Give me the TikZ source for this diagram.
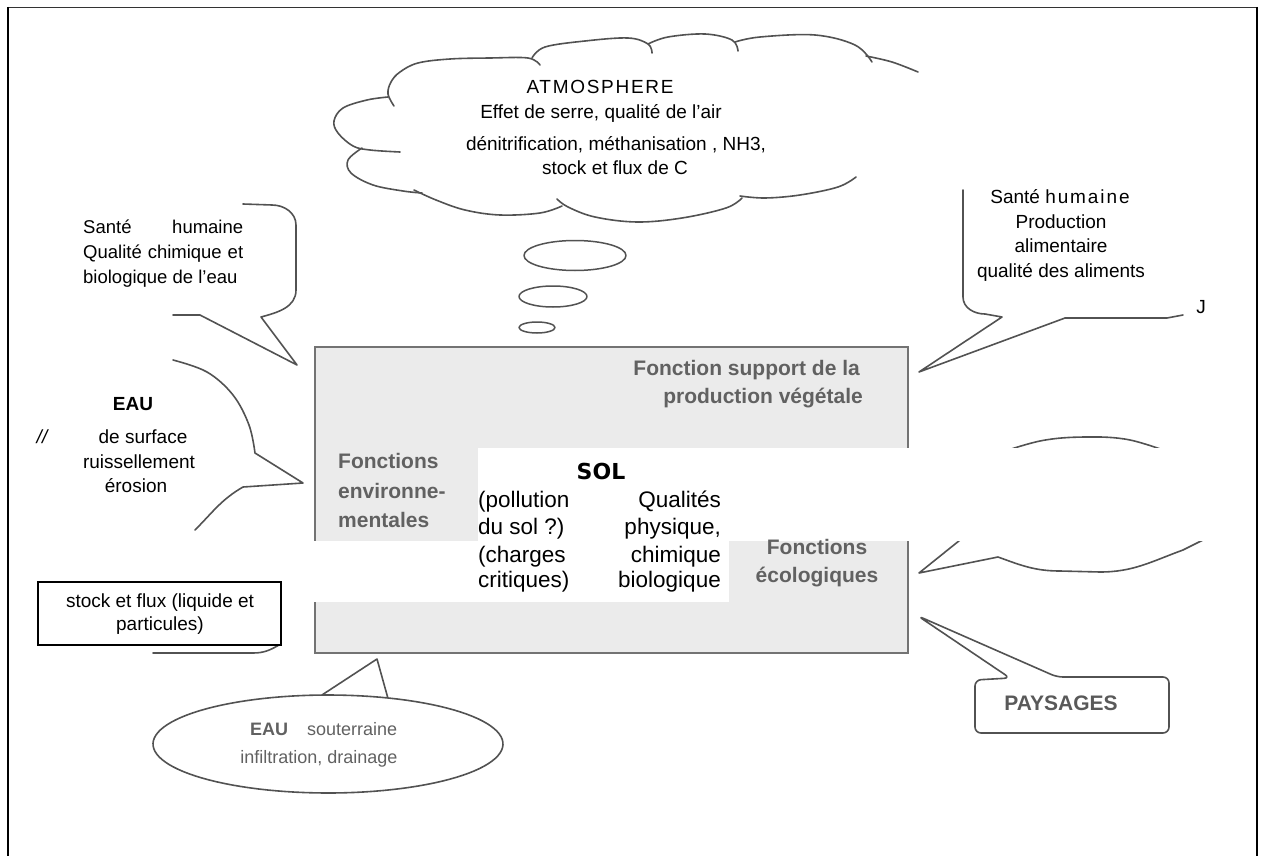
\documentclass[tikz,border=0pt]{standalone}
\usepackage{fontspec}
\setmainfont{Liberation Sans}
\newfontfamily\solfont{DejaVu Sans}
\newcommand\myfs[1]{\fontsize{#1}{#1}\selectfont}
\begin{document}
\begin{tikzpicture}[x=1pt,y=-1pt,
  ln/.style={draw=black!68, line width=1.6pt, line join=round, line cap=round},
  tx/.style={inner sep=0pt, anchor=base, font=\myfs{19}},
  gb/.style={inner sep=0pt, anchor=base, font=\myfs{21}\bfseries, text=black!62},
  gt/.style={inner sep=0pt, anchor=base, font=\myfs{18}, text=black!62},
  sl/.style={inner sep=0pt, anchor=base, font=\myfs{22.5}}]
\useasboundingbox (0,0) rectangle (1263,856);
% frame
\draw[black!80, line width=1pt] (8,8) -- (1256,8);
\draw[black, line width=2.5pt] (8,7) -- (8,856);
\draw[black, line width=2.5pt] (1257,7) -- (1257,856);

% cloud
\draw[ln] plot[smooth, tension=0.6] coordinates {(394,106) (388,94) (391,82) (400,72) (418,63) (450,59) (490,58) (528,58) (540,65)};
\draw[ln] plot[smooth, tension=0.6] coordinates {(532,58) (545,47) (585,41) (628,38) (648,44) (652,53)};
\draw[ln] plot[smooth, tension=0.6] coordinates {(648,44) (668,37) (705,34) (732,40) (738,51)};
\draw[ln] plot[smooth, tension=0.6] coordinates {(735,42) (760,37) (815,35) (855,45) (872,62)};
\draw[ln] plot[smooth, tension=0.6] coordinates {(866,56) (892,62) (918,72)};
\draw[ln] plot[smooth, tension=0.6] coordinates {(856,177) (838,187) (800,195) (765,198) (740,196)};
\draw[ln] plot[smooth, tension=0.6] coordinates {(742,198) (726,208) (682,218) (637,222) (595,217) (568,207) (557,199)};
\draw[ln] plot[smooth, tension=0.6] coordinates {(562,206) (540,213) (500,215) (465,210) (436,200) (414,190)};
\draw[ln] plot[smooth, tension=0.6] coordinates {(422,193) (403,191) (373,185) (351,173) (348,160) (362,148)};
\draw[ln] plot[smooth, tension=0.6] coordinates {(400,152) (370,150) (353,146) (338,133) (334,121) (343,108) (367,100) (388,97)};
\node[tx, font={\myfs{19}\addfontfeature{LetterSpace=9}}] (atm) at (600,94) {ATMOSPHERE};
\node[tx] (atm1) at (601,119) {Effet de serre, qualité de l'air};
\node[tx] (atm2) at (616,150) {dénitrification, méthanisation , NH3,};
\node[tx] (atm3) at (615,174) {stock et flux de C};

% thought bubbles
\draw[ln, line width=1.5pt] (575,255.5) ellipse [x radius=51, y radius=15];
\draw[ln, line width=1.5pt] (553,296.5) ellipse [x radius=34, y radius=10.5];
\draw[ln, line width=1.5pt] (537,327.5) ellipse [x radius=18, y radius=5.5];

% left callout 1
\draw[ln] (173,315) -- (200,315) -- (297,365) -- (261,317) to[out=15,in=-90] (296,290) -- (296,225) to[out=90,in=0] (272,205) -- (243,204);
\node[tx, anchor=base west, font=\myfs{18.5}] (s1) at (83,233) {\makebox[160pt][s]{Santé humaine}};
\node[tx, anchor=base west, font=\myfs{18.5}] (s2) at (83,258) {\makebox[160pt][s]{Qualité chimique et}};
\node[tx, anchor=base west, font=\myfs{18.5}] (s3) at (83,283) {biologique de l'eau};

% left callout 2 (EAU de surface)
\draw[ln] plot[smooth, tension=0.6] coordinates {(173,360) (207,372) (233,395) (249,425) (255,453)} -- (303,483) -- (243,487) to[out=-150,in=45] (195,530);
\node[tx, font=\myfs{19}\bfseries] (eau) at (133,410) {EAU};
\node[tx, font=\myfs{19}\itshape] (sl2) at (42,443) {//};
\node[tx] (e1) at (143,443) {de surface};
\node[tx] (e2) at (139,468) {ruissellement};
\node[tx] (e3) at (136,492) {érosion};

% stock et flux box
\draw[ln] (153,653) -- (253,653) to[out=0,in=-150] (279,645);
\node[draw=black, line width=2pt, fill=white, minimum width=243pt, minimum height=63pt, inner sep=0pt] (stock) at (159.5,613.5) {};
\node[tx] (st1) at (160,607) {stock et flux (liquide et};
\node[tx] (st2) at (160,630) {particules)};

% gray SOL box
\node[draw=black!55, line width=1.5pt, fill=black!8, minimum width=593pt, minimum height=306pt, inner sep=0pt] (box) at (611.5,500) {};

% top right callout
\draw[ln] (963,190) -- (963,297) to[out=-90,in=180] (985,314) -- (1002,317) -- (919,372) -- (1065,318) -- (1167,318) -- (1183,315);
\node[tx, font=\myfs{19}] (r1) at (1060,203) {Santé {\addfontfeature{LetterSpace=10}humaine}};
\node[tx] (r2) at (1061,228) {Production};
\node[tx] (r3) at (1061,252) {alimentaire};
\node[tx] (r4) at (1061,277) {qualité des aliments};
\node[tx] (j) at (1201,313) {J};

% ecological callout
\draw[ln] plot[smooth, tension=0.6] coordinates {(990,456) (1040,441) (1085,437) (1130,440) (1180,456)};
\draw[ln] (975,528) -- (919,573) -- (998,557) to[out=-20,in=180] (1060,571) -- (1100,572) to[out=0,in=-160] (1183,550) -- (1205,539);

% PAYSAGES callout
\draw[ln, rounded corners=6pt] (918,616) -- (1010,678) -- (975,680) -- (975,733) -- (1169,733) -- (1169,677) -- (1057,677) -- cycle;
\node[gb, text=black!65] (pay) at (1061,710) {PAYSAGES};

% EAU souterraine callout
\draw[ln] plot[domain=70:452, samples=120] ({328+175*cos(\x)},{744-49*sin(\x)}) -- (377,659) -- cycle;
\node[gt, font=\myfs{18}\bfseries, anchor=base west] (eau2) at (250,735) {EAU};
\node[gt, anchor=base west] (sout) at (307,735) {souterraine};
\node[gt] (inf) at (319,763) {infiltration, drainage};

% white overlay regions
\fill[white] (478,448) rectangle (1212,541);
\fill[white] (290,541) rectangle (729,602);

% gray box texts
\node[gb, anchor=base east] (fs1) at (860,375) {Fonction support de la};
\node[gb, anchor=base east] (fs2) at (863,403) {production végétale};
\node[gb, anchor=base west] (fe1) at (338,468) {Fonctions};
\node[gb, anchor=base west] (fe2) at (338,498) {environne-};
\node[gb, anchor=base west] (fe3) at (338,527) {mentales};
\node[gb] (fc1) at (817,554) {Fonctions};
\node[gb] (fc2) at (817,582) {écologiques};

% SOL block
\node[sl, font=\myfs{22}\solfont\bfseries] (sol) at (601,479) {SOL};
\node[sl, anchor=base west] (l1) at (478,507) {(pollution};
\node[sl, anchor=base west] (l2) at (478,534) {du sol ?)};
\node[sl, anchor=base west] (l3) at (478,562) {(charges};
\node[sl, anchor=base west] (l4) at (478,587) {critiques)};
\node[sl, anchor=base east] (q1) at (721,507) {Qualités};
\node[sl, anchor=base east] (q2) at (721,534) {physique,};
\node[sl, anchor=base east] (q3) at (721,562) {chimique};
\node[sl, anchor=base east] (q4) at (721,587) {biologique};
\end{tikzpicture}
\end{document}
